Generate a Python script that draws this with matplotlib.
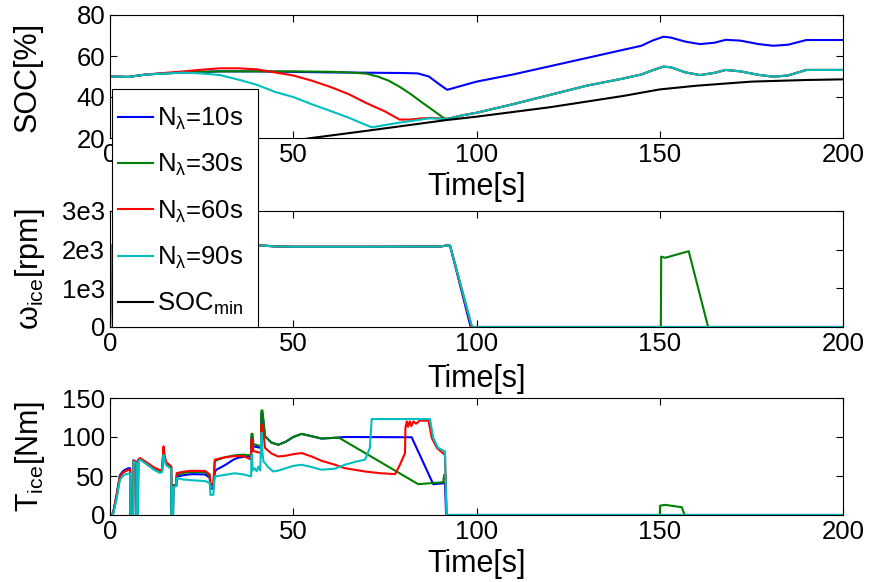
import matplotlib
matplotlib.use("Agg")
import matplotlib.pyplot as plt
from matplotlib.patches import Rectangle

plt.rcParams['font.family'] = ['Liberation Sans', 'DejaVu Sans']
plt.rcParams['mathtext.fontset'] = 'custom'
plt.rcParams['mathtext.rm'] = 'Liberation Sans'
plt.rcParams['mathtext.it'] = 'Liberation Sans'
plt.rcParams['mathtext.bf'] = 'Liberation Sans:bold'
plt.rcParams['mathtext.sf'] = 'Liberation Sans'

FS = 18.5
LFS = 22

# ---------------- data ----------------
labels = [r'$\mathregular{N_\lambda}$=10s', r'$\mathregular{N_\lambda}$=30s',
          r'$\mathregular{N_\lambda}$=60s', r'$\mathregular{N_\lambda}$=90s',
          r'$\mathregular{SOC_{min}}$']
colors = ['#0000ff', '#008000', '#ff0000', '#00bfbf', '#000000']

# SOC [%]
soc_tail_t = [96, 100, 110, 120, 130, 140, 145, 148, 151, 153, 157, 161, 165, 168, 172, 177, 181, 185, 190, 200]
soc_tail = [31, 32.3, 36.5, 41, 45.5, 49, 51, 53, 54.8, 54.5, 52, 50.7, 51.8, 53.2, 52.5, 50.8, 49.9, 50.5, 53.2, 53.2]

soc10_t = [0, 5, 10, 20, 30, 40, 60, 80, 84, 87, 90, 92, 96, 100, 110, 120, 130, 140, 145, 148, 151, 153, 157, 161, 165, 168, 172, 177, 181, 185, 190, 200]
soc10 = [50, 49.8, 51, 52, 52.5, 52.5, 52, 51.7, 51.5, 50, 46, 43.5, 45.5, 47.5, 51, 55, 59, 63, 65, 67.5, 69.4, 69, 67, 65.8, 66.5, 67.9, 67.5, 65.8, 65, 65.5, 67.8, 67.8]

soc30_t = [0, 5, 10, 20, 30, 40, 50, 60, 65, 70, 73, 76, 79, 82, 85, 88, 91, 92] + soc_tail_t
soc30 = [50, 49.8, 51, 52, 52.5, 52.5, 52.5, 52.3, 52, 51.4, 50, 48, 45, 41.5, 37.5, 33.7, 29.8, 29.3] + soc_tail

soc60_t = [0, 5, 10, 20, 25, 30, 35, 40, 45, 50, 55, 60, 65, 70, 75, 79, 82, 85, 88, 92] + soc_tail_t
soc60 = [50, 49.8, 51, 52.5, 53.3, 54, 54, 53.5, 52, 50.5, 48, 45, 41.5, 37, 33, 29, 29, 29.6, 29.8, 29.3] + soc_tail

soc90_t = [0, 5, 10, 20, 25, 30, 35, 40, 45, 50, 55, 60, 65, 71.4, 75, 79, 83, 87, 92] + soc_tail_t
soc90 = [50, 49.8, 51, 51.9, 51.5, 50.7, 48.5, 46, 42.5, 40, 36.5, 33.3, 30, 25.2, 26.3, 27.5, 28.5, 29.6, 29.3] + soc_tail

socmin_t = [0, 20, 40, 55, 70, 92, 100, 120, 140, 150, 160, 175, 190, 200]
socmin = [7, 11.5, 16, 20, 23.5, 28.8, 30.4, 35, 40.5, 43.7, 45.5, 47.5, 48.3, 48.6]

# engine speed [rpm]
w_common_t = [0, 0.3, 5, 20, 41, 45, 50, 70, 90, 92, 92.8]
w_common = [0, 2100, 2100, 2110, 2110, 2085, 2075, 2075, 2080, 2110, 2100]
w10_t = w_common_t + [98.4, 200]
w10 = w_common + [0, 0]
w30_t = w_common_t + [98.7, 150.3, 150.4, 151.5, 157.9, 163.2, 200]
w30 = w_common + [0, 0, 1820, 1790, 1960, 0, 0]
w60_t = w_common_t + [98.7, 200]
w60 = w_common + [0, 0]
w90_t = w_common_t + [98.8, 200]
w90 = w_common + [0, 0]

# engine torque [Nm]
T10_t = [0, 0.5, 0.9, 1.8, 2.7, 3.5, 4.1, 5, 5.5, 5.6, 6.3, 6.4, 7.2, 7.3, 7.6, 7.7, 8.2, 10, 12, 13.6, 14.2,
         14.6, 14.9, 15.3, 16.4, 16.7, 16.8, 17.2, 17.3, 18.1, 18.2, 20, 22.3, 25.9, 27.2, 27.4, 28.2, 28.6,
         29, 31.4, 33.7, 35, 37, 38.5, 38.6, 38.9, 39.1, 41.2, 41.3, 41.6, 42.3, 44, 45.9, 48, 50, 52.3, 55,
         57.7, 61.4, 64.1, 82.3, 88.2, 91.4, 91.7, 200]
T10 = [0, 0, 4, 26, 51, 56, 58, 60, 60, 0, 0, 70, 68, 0, 0, 70, 72, 66, 59, 55, 56,
       80, 72, 66, 62, 61, 0, 0, 38, 38, 49, 51, 52.4, 52, 48, 34, 34, 55,
       58, 64, 71, 73.5, 75, 75, 100, 100, 88, 86, 130, 130, 101, 93, 90, 94, 100, 104, 101,
       98, 99, 100, 99.7, 39.5, 40.8, 0, 0]

T30_t = [0, 0.5, 0.9, 1.8, 2.7, 3.5, 4.1, 5, 5.5, 5.6, 6.3, 6.4, 7.2, 7.3, 7.6, 7.7, 8.2, 10, 12, 13.6, 14.2,
         14.6, 14.9, 15.3, 16.4, 16.7, 16.8, 17.2, 17.3, 18.1, 18.2, 20, 22.3, 25.9, 27.2, 27.4, 28.2, 28.6,
         29.5, 31.4, 34, 36.5, 38.5, 38.6, 38.9, 39.1, 41.2, 41.3, 41.6, 42.3, 44, 45.9, 48, 50, 52.3, 55,
         57.7, 61.4, 62.5, 84.1, 90.9, 91.2, 91.6, 91.8, 150, 150.1, 151.5, 156, 156.8, 200]
T30 = [0, 0, 3, 24, 49, 54, 56, 58, 58, 0, 0, 69, 67, 0, 0, 70, 72, 66.5, 60, 56, 57,
       84, 74, 67, 63, 62, 0, 0, 38, 38, 51.5, 54, 55, 55, 50, 38, 38, 69,
       71, 74, 76.5, 77.3, 76.5, 104, 104, 91, 88, 134, 134, 101, 93, 90, 94, 100, 104, 101,
       98, 99, 99, 39.5, 42, 51.5, 51.5, 0, 0, 12, 13, 10, 0, 0]

T60_t = [0, 0.5, 0.9, 1.8, 2.7, 3.5, 4.1, 5, 5.5, 5.6, 6.3, 6.4, 7.2, 7.3, 7.6, 7.7, 8.2, 10, 12, 13.6, 14.2,
         14.6, 14.9, 15.3, 16.4, 16.7, 16.8, 17.3, 18.1, 18.2, 20, 22.3, 25.9, 27.2, 27.4, 28.2, 28.6,
         31.4, 34, 36.5, 38.5, 38.6, 38.9, 39.1, 41.2, 41.3, 41.6, 42.3, 44, 45.9, 48, 50, 52.3, 55,
         57.7, 61.4, 64.1, 70, 74, 77.8, 79.1, 80.5, 80.6, 81, 81.3, 81.8, 82.2, 82.8, 83.5, 84.5, 86.9,
         87.8, 89.2, 91.4, 91.8, 200]
T60 = [0, 0, 3, 24, 49, 54, 56, 58, 58, 0, 0, 70, 68, 0, 0, 71, 73, 67.5, 61, 57.5, 58,
       88, 76, 68, 63.5, 62, 34, 36, 38, 53.7, 55.5, 56.7, 56.5, 52, 39.5, 39.5, 71,
       74, 75.5, 75.5, 71, 97, 97, 82, 79.4, 116, 116, 86, 79, 75, 76, 78, 79.4, 75,
       69.6, 64.4, 60, 55.5, 53.5, 52.4, 64.4, 79.4, 112, 120, 113, 120, 114, 120, 117, 121, 121,
       98.8, 86, 77, 0, 0]

T90_t = [0, 0.5, 0.9, 1.8, 2.7, 3.5, 4.1, 5, 5.5, 5.6, 6.3, 6.4, 7.2, 7.3, 7.6, 7.7, 8.2, 10, 12, 13.6, 14.2,
         14.6, 14.9, 15.3, 16.4, 16.7, 16.8, 17.2, 17.3, 18.1, 18.2, 20, 22.3, 25.9, 27.2, 27.4, 28.2, 28.3,
         28.6, 31.4, 34, 36.5, 38.5, 38.6, 38.8, 38.9, 39.5, 40, 40.5, 41, 41.3, 41.5, 41.6, 41.9, 42.3, 43,
         44.5, 46, 48, 50, 52.3, 55, 57.7, 61.4, 64.1, 66.8, 69.6, 70.9, 71.4, 87.3, 88.2, 89.5, 91.4,
         91.8, 200]
T90 = [0, 0, 2, 20, 45, 50, 52, 53, 53, 0, 0, 68.7, 66, 0, 0, 69, 71, 65, 58, 54, 55,
       77, 70, 64, 60, 59, 0, 0, 36, 37, 47.2, 45.5, 44.5, 43.5, 41, 25.8, 25.8, 36.5,
       49.4, 51.5, 53.5, 52, 49.4, 77, 77, 57, 60, 56, 62, 57, 105, 105, 80, 68, 66.6, 62,
       55.8, 57, 60, 63, 64.4, 61.5, 58, 59.4, 64.4, 68, 71, 86, 123, 123, 98.8, 86, 81.6,
       0, 0]

time_ticks = [0, 50, 100, 150, 200]
soc_ticks = [20, 40, 60, 80]
w_ticks = [0, 1000, 2000, 3000]
w_ticklabels = ['0', '1e3', '2e3', '3e3']
T_ticks = [0, 50, 100, 150]

# ---------------- figure ----------------
W, H = 869, 582
fig = plt.figure(figsize=(W / 100, H / 100), dpi=100)
L, R = 110, 843
ax1 = fig.add_axes([L / W, 1 - 138 / H, (R - L) / W, 123 / H])
ax2 = fig.add_axes([L / W, 1 - 327 / H, (R - L) / W, 116 / H])
ax3 = fig.add_axes([L / W, 1 - 515 / H, (R - L) / W, 117 / H])

lw = 1.5
handles = []
for (t, y), c in zip([(soc10_t, soc10), (soc30_t, soc30), (soc60_t, soc60), (soc90_t, soc90), (socmin_t, socmin)], colors):
    h, = ax1.plot(t, y, color=c, lw=lw)
    handles.append(h)
for (t, y), c in zip([(w10_t, w10), (w30_t, w30), (w60_t, w60), (w90_t, w90)], colors):
    ax2.plot(t, y, color=c, lw=lw)
for (t, y), c in zip([(T10_t, T10), (T30_t, T30), (T60_t, T60), (T90_t, T90)], colors):
    ax3.plot(t, y, color=c, lw=lw)

ax1.set_ylim(20, 80)
ax1.set_yticks(soc_ticks)
ax2.set_ylim(0, 3000)
ax2.set_yticks(w_ticks)
ax2.set_yticklabels(w_ticklabels)
ax3.set_ylim(0, 150)
ax3.set_yticks(T_ticks)

ylabels = ['SOC[%]', r'$\mathregular{\omega_{ice}}$[rpm]', r'$\mathregular{T_{ice}}$[Nm]']
ylab_x = [-0.092, -0.086, -0.086]
for ax, yl, yx in zip([ax1, ax2, ax3], ylabels, ylab_x):
    ax.set_xlim(0, 200)
    ax.set_xticks(time_ticks)
    ax.tick_params(direction='in', length=5, width=0.8, top=True, right=True,
                   labelsize=FS, pad=3.5, colors='black')
    for s in ax.spines.values():
        s.set_linewidth(0.8)
    ax.set_xlabel('Time[s]', fontsize=LFS, labelpad=3.5)
    ax.set_ylabel(yl, fontsize=LFS)
    ax.yaxis.set_label_coords(yx, 0.5)
ax2.xaxis.labelpad = 6

# legend box (frame drawn as a figure patch, entries by fig.legend)
frame = Rectangle((112.3 / W, 1 - 327.3 / H), (258.3 - 112.3) / W, (327.3 - 89.3) / H,
                  transform=fig.transFigure, facecolor='white', edgecolor='black',
                  linewidth=0.8, zorder=4)
fig.add_artist(frame)
leg = fig.legend(handles, labels, loc='upper left',
                 bbox_to_anchor=(118 / W, 1 - 106 / H), bbox_transform=fig.transFigure,
                 borderaxespad=0, fontsize=FS, frameon=False,
                 handlelength=1.36, handletextpad=0.15, borderpad=0.0, labelspacing=0.78)
leg.set_zorder(5)

fig.savefig('out.png', dpi=100)
